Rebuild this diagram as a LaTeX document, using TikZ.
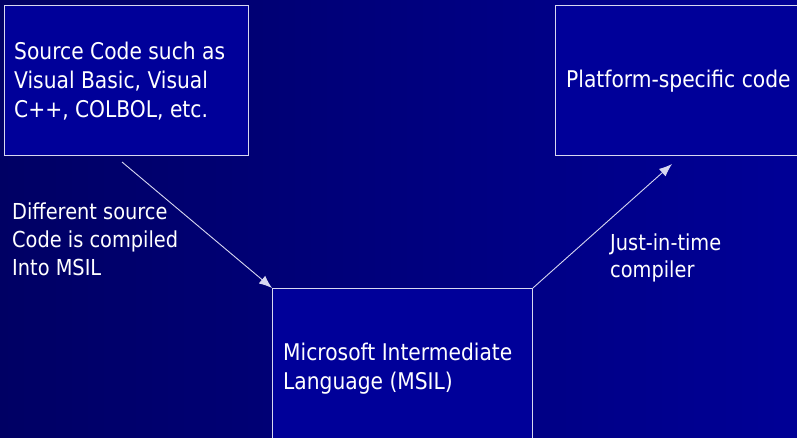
\documentclass[tikz,border=0pt]{standalone}
\usepackage{fontspec}
\usetikzlibrary{arrows.meta}
\setmainfont{DejaVu Sans}[FakeStretch=0.88]
\definecolor{bgleft}{RGB}{0,0,100}
\definecolor{bgright}{RGB}{0,0,150}
\definecolor{boxfill}{RGB}{0,0,153}
\definecolor{edge}{RGB}{215,215,240}
\begin{document}
\begin{tikzpicture}[x=1pt,y=-1pt,
  box/.style={draw=edge,line width=0.9pt,fill=boxfill},
  txt/.style={text=white,font=\fontsize{23}{29}\selectfont,anchor=base west,inner sep=0pt,align=left},
  conn/.style={draw=edge,line width=0.9pt,-{Latex[length=13pt,width=10pt]}}]
\useasboundingbox (0,0) rectangle (797,438);
\shade[left color=bgleft,right color=bgright] (0,0) rectangle (797,438);
\node[box,minimum width=244pt,minimum height=150pt,anchor=north west,inner sep=0pt] (src) at (4,5) {};
\node[box,minimum width=250pt,minimum height=150pt,anchor=north west,inner sep=0pt] (plat) at (555,5) {};
\node[box,minimum width=260pt,minimum height=160pt,anchor=north west,inner sep=0pt] (msil) at (272,288) {};
\node[txt] (t1) at (14,118) {Source Code such as\\Visual Basic, Visual\\C++, COLBOL, etc.};
\node[txt] (t2) at (566,88) {Platform-specific code};
\node[txt] (t3) at (283,389) {Microsoft Intermediate\\Language (MSIL)};
\node[txt,font=\fontsize{22}{28}\selectfont] (l1) at (12,276) {Different source\\Code is compiled\\Into MSIL};
\node[txt,font=\fontsize{22}{27}\selectfont] (l2) at (610,277) {Just-in-time\\compiler};
\coordinate (a1) at (122,162);
\coordinate (a2) at (672,164);
\draw[conn] (a1) -- (msil.north west);
\draw[conn] (msil.north east) -- (a2);
\end{tikzpicture}
\end{document}
